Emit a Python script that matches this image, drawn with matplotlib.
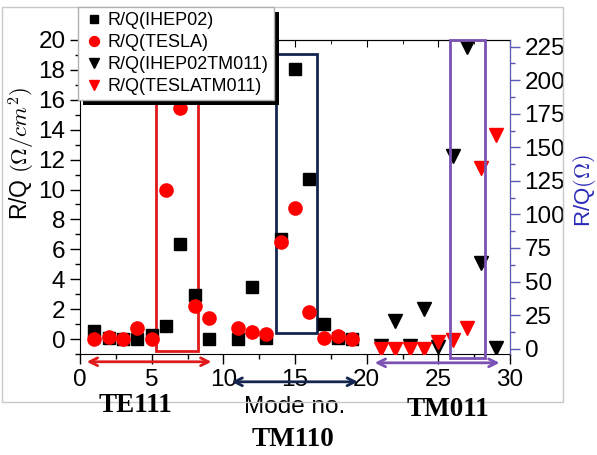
import numpy as np
import matplotlib
matplotlib.use("Agg")
import matplotlib.pyplot as plt
from matplotlib.patches import Rectangle
from matplotlib.ticker import MultipleLocator

plt.rcParams['font.family'] = ['Liberation Sans', 'DejaVu Sans']
plt.rcParams['mathtext.fontset'] = 'cm'

# -------------------------
# data
# -------------------------
mode_low = [1, 2, 3, 4, 5, 6, 7, 8, 9, 11, 12, 13, 14, 15, 16, 17, 18, 19]
rq_ihep02 = [0.56, 0.1, 0.0, 0.0, 0.27, 0.89, 6.35, 2.94, 0.0,
             0.0, 3.46, 0.05, 6.67, 18.06, 10.68, 0.98, 0.1, 0.0]
rq_tesla = [0.0, 0.15, 0.0, 0.72, 0.0, 10.0, 15.43, 2.2, 1.42,
            0.72, 0.45, 0.31, 6.47, 8.78, 1.83, 0.1, 0.2, 0.0]

mode_tm011 = [21, 22, 23, 24, 25, 26, 27, 28, 29]
rq_ihep02_tm011 = [2.0, 20.8, 2.0, 29.3, 1.4, 143.5, 224.5, 64.0, 0.2]
rq_tesla_tm011 = [0.0, 0.0, 0.0, 0.0, 5.1, 6.4, 15.1, 134.4, 159.0]

# -------------------------
# figure
# -------------------------
W, H = 597, 455
fig = plt.figure(figsize=(W / 100, H / 100), dpi=100)
ax = fig.add_axes([80 / W, 1 - 354 / H, 430 / W, 314 / H])
ax2 = ax.twinx()

ax.set_xlim(0, 30)
ax.set_ylim(-1, 20)
ax2.set_ylim(-4, 230)

ax.plot(mode_low, rq_ihep02, 's', color='black', ms=8, ls='none',
        label='R/Q(IHEP02)', zorder=3)
ax.plot(mode_low, rq_tesla, 'o', color='red', ms=9.5, ls='none',
        label='R/Q(TESLA)', zorder=4)
ax2.plot(mode_tm011, rq_ihep02_tm011, 'v', color='black', ms=10, ls='none',
         label='R/Q(IHEP02TM011)', zorder=3)
ax2.plot(mode_tm011, rq_tesla_tm011, 'v', color='red', ms=10, ls='none',
         label='R/Q(TESLATM011)', zorder=4)

# boxes around the mode groups
ax.add_patch(Rectangle((5.3, -0.78), 2.9, 16.98, fill=False,
                       ec='#e01a1a', lw=2, zorder=2, clip_on=False))
ax.add_patch(Rectangle((13.68, 0.43), 2.84, 18.63, fill=False,
                       ec='#14254f', lw=2, zorder=2, clip_on=False))
ax2.add_patch(Rectangle((25.83, -1.29), 2.44, 21.29, fill=False,
                        ec='#7b52b3', lw=2, zorder=5, clip_on=False,
                        transform=ax.transData))

# double arrows under the axis
arrows = [(0.47, 9.17, -1.52, '#e01a1a'),
          (10.57, 19.39, -2.86, '#14254f'),
          (20.56, 29.27, -1.59, '#7b52b3')]
for x0, x1, yy, c in arrows:
    ax.annotate('', xy=(x1, yy), xytext=(x0, yy), annotation_clip=False,
                arrowprops=dict(arrowstyle='<->', color=c, lw=2,
                                mutation_scale=14, shrinkA=0, shrinkB=0))

# ticks
ax.xaxis.set_major_locator(MultipleLocator(5))
ax.xaxis.set_minor_locator(MultipleLocator(2.5))
ax.yaxis.set_major_locator(MultipleLocator(2))
ax.yaxis.set_minor_locator(MultipleLocator(1))
ax2.yaxis.set_major_locator(MultipleLocator(25))
ax2.yaxis.set_minor_locator(MultipleLocator(12.5))
ax.tick_params(which='both', direction='out', labelsize=17.5, top=False)
ax.tick_params(which='major', length=7, width=1)
ax.tick_params(which='minor', length=3.5, width=1)

axis_blue = '#5a5ab4'
ax2.tick_params(which='both', direction='out', labelsize=17.5, color=axis_blue)
ax2.tick_params(which='major', length=7, width=1)
ax2.tick_params(which='minor', length=3.5, width=1)
ax2.spines['right'].set_color(axis_blue)
for s in ['left', 'top', 'bottom']:
    ax2.spines[s].set_visible(False)

top = ax.secondary_xaxis('top')
top.xaxis.set_major_locator(MultipleLocator(5))
top.xaxis.set_minor_locator(MultipleLocator(2.5))
top.tick_params(which='both', direction='in', labeltop=False)
top.tick_params(which='major', length=5)
top.tick_params(which='minor', length=3)

# axis titles
ax.set_ylabel(r'R/Q $(\Omega/cm^2)$', fontsize=16.5, va='center')
ax.yaxis.set_label_coords(-0.136, 0.64)
ax2.set_ylabel(r'R/Q$(\Omega)$', fontsize=16, color='#2a2ab8', va='center')
ax2.yaxis.set_label_coords(1.173, 0.52)
ax.set_xlabel('Mode no.', fontsize=17.5, va='center')
ax.xaxis.set_label_coords(0.5, -0.168)

serif = ['Liberation Serif', 'DejaVu Serif']
fig.text(135 / W, 1 - 405 / H, 'TE111', family=serif, weight='bold',
         fontsize=19.5, ha='center', va='center')
fig.text(293 / W, 1 - 440 / H, 'TM110', family=serif, weight='bold',
         fontsize=19.5, ha='center', va='center')
fig.text(448 / W, 1 - 410 / H, 'TM011', family=serif, weight='bold',
         fontsize=19.5, ha='center', va='center')

# grey page frame
fig.patches.append(Rectangle((2 / W, 1 - 402 / H), 561 / W, 395 / H,
                             transform=fig.transFigure, fill=False,
                             ec='#c8c8c8', lw=1, zorder=1))

# legend
h1, l1 = ax.get_legend_handles_labels()
h2, l2 = ax2.get_legend_handles_labels()
leg = fig.legend(h1 + h2, l1 + l2, loc='upper left',
                 bbox_to_anchor=(78 / W, 1 - 7 / H), borderaxespad=0,
                 fontsize=13, markerscale=0.75, handlelength=1.15,
                 handletextpad=0.2, borderpad=0.3, labelspacing=0.27,
                 fancybox=False, framealpha=1, edgecolor='#b0b0b0')
leg.set_zorder(5)
leg.get_frame().set_linewidth(1)

# solid black shadow, 5 px right and down of the legend box
fig.canvas.draw()
bb = leg.get_window_extent()
fig.patches.append(Rectangle(((bb.x0 + 5) / W, (bb.y0 - 5) / H),
                             bb.width / W, bb.height / H,
                             transform=fig.transFigure, fc='black',
                             ec='none', zorder=4))

plt.savefig('out.png', dpi=100)
